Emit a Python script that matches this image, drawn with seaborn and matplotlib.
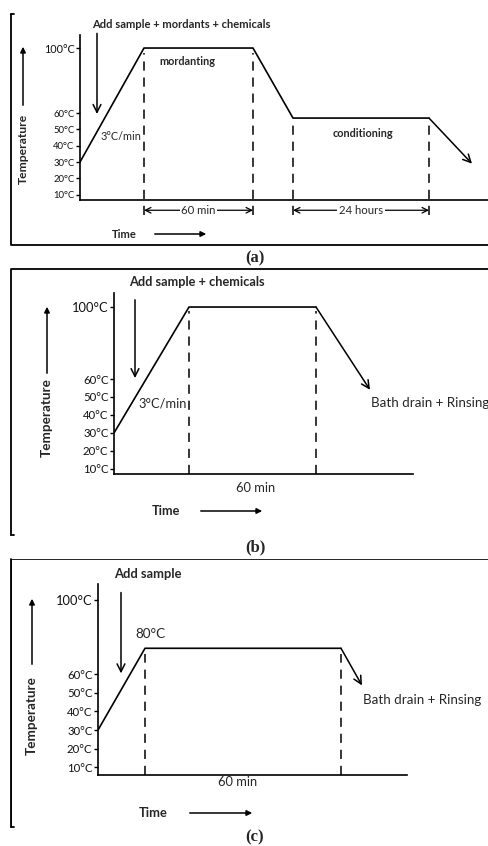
import numpy as np
import pandas as pd
import seaborn as sns
import matplotlib
matplotlib.use("Agg")
import matplotlib.pyplot as plt
from matplotlib.lines import Line2D

# ---------------- data (schematic time units, temperatures in °C) ----------------
TEMP_TICKS = [10, 20, 30, 40, 50, 60, 100]
TEMP_LABELS = ["10°C", "20°C", "30°C", "40°C", "50°C", "60°C", "100°C"]

A_TIME = [0, 6.4, 17.3, 21.3, 34.9]
A_TEMP = [30, 100, 100, 57, 57]
A_END = (39.2, 29)          # end of final cooling arrow
A_DASH_X = [6.4, 17.3, 21.3, 34.9]
A_DASH_TOP = [97, 97, 55, 55]

B_TIME = [0, 7.5, 20.2]
B_TEMP = [30, 100, 100]
B_END = (25.6, 54)
B_DASH_X = [7.5, 20.2]
B_DASH_TOP = [98, 98]

C_TIME = [0, 4.7, 24.3]
C_TEMP = [30, 74, 74]
C_END = (26.4, 54)
C_DASH_X = [4.7, 24.3]
C_DASH_TOP = [71, 71]

# ---------------- style ----------------
sns.set_theme(style="ticks")
plt.rcParams["font.family"] = ["Lato", "DejaVu Sans"]
plt.rcParams["axes.linewidth"] = 1.2

W, H = 488, 846
fig = plt.figure(figsize=(W / 100, H / 100), dpi=100)


def rect(x0, x1, yt, yb):
    return [x0 / W, 1 - yb / H, (x1 - x0) / W, (yb - yt) / H]


def fp(x, y):
    return (x / W, 1 - y / H)


def make_axes(r, ylim, xlim, big, small):
    ax = fig.add_axes(r)
    ax.set_xlim(*xlim)
    ax.set_ylim(*ylim)
    sns.despine(ax=ax)
    ax.set_xticks([])
    ax.set_yticks(TEMP_TICKS)
    ax.set_yticklabels(TEMP_LABELS)
    for lab, v in zip(ax.get_yticklabels(), TEMP_TICKS):
        lab.set_fontsize(big if v == 100 else small)
        lab.set_color("#111111")
    ax.tick_params(axis="y", length=3, width=1, pad=1, color="black", direction="out")
    for s in ax.spines.values():
        s.set_color("black")
    ax.set_facecolor("none")
    return ax


def profile(ax, t, temp, end, dash_x, dash_top, dash_bottom):
    df = pd.DataFrame({"time": t, "temp": temp})
    sns.lineplot(data=df, x="time", y="temp", ax=ax, color="black", lw=1.2,
                 legend=False, sort=False)
    ax.annotate("", xy=end, xytext=(t[-1], temp[-1]), annotation_clip=False,
                arrowprops=dict(arrowstyle="->", lw=1.1, color="black",
                                mutation_scale=14, shrinkA=0, shrinkB=0))
    ax.vlines(dash_x, dash_bottom, dash_top, colors="black", lw=1.1,
              linestyles=(0, (6, 4.5)), clip_on=False)
    ax.set_xlabel("")
    ax.set_ylabel("")


def down_arrow(ax, x, y0, y1):
    ax.annotate("", xy=(x, y1), xytext=(x, y0), annotation_clip=False,
                arrowprops=dict(arrowstyle="->", lw=1.1, color="black",
                                mutation_scale=14, shrinkA=0, shrinkB=0))


def fig_arrow(p0, p1):
    fig.add_artist(matplotlib.patches.FancyArrowPatch(
        fp(*p0), fp(*p1), transform=fig.transFigure, arrowstyle="-|>",
        mutation_scale=8, lw=1.1, color="black"))


def fig_line(xs, ys, lw=1.3):
    fig.add_artist(Line2D([x / W for x in xs], [1 - y / H for y in ys],
                          transform=fig.transFigure, color="black", lw=lw))


# ---------------- panel (a) ----------------
axA = make_axes(rect(80, 488, 35, 200), (6.7, 108), (0, 40.8), 7.8, 6.8)
profile(axA, A_TIME, A_TEMP, A_END, A_DASH_X, A_DASH_TOP, -2.5)
down_arrow(axA, 1.7, 109, 59.5)
axA.text(10.7, 91.5, "mordanting", fontsize=7.8, fontweight="bold", ha="center", va="center")
axA.text(4.1, 45.5, "3°C/min", fontsize=7.8, ha="center", va="center")
axA.text(28.3, 47.5, "conditioning", fontsize=7.8, fontweight="bold", ha="center", va="center")
for (x0, x1, lab) in [(A_TIME[1], A_TIME[2], "60 min"), (A_TIME[3], A_TIME[4], "24 hours")]:
    axA.annotate("", xy=(x1, 0.4), xytext=(x0, 0.4), annotation_clip=False,
                 arrowprops=dict(arrowstyle="<->", lw=0.9, color="black",
                                 mutation_scale=10, shrinkA=0, shrinkB=0))
    axA.text((x0 + x1) / 2, 0.4, lab, fontsize=8.2, ha="center", va="center",
             bbox=dict(fc="white", ec="none", pad=1.2), clip_on=False)
fig.text(*fp(181, 25), "Add sample + mordants + chemicals", fontsize=8,
         fontweight="bold", ha="center", va="center")
fig.text(*fp(124, 234), "Time", fontsize=8, fontweight="bold", ha="center", va="center")
fig_arrow((152, 234), (209, 234))
fig.text(*fp(23, 149), "Temperature", fontsize=8.7, fontweight="bold", rotation=90,
         ha="center", va="center")
fig_arrow((23, 108), (23, 44))
fig_line([11, 11, 488], [14, 245, 245])
fig_line([11, 14], [14, 14])
fig.text(*fp(255, 258), "(a)", fontsize=12, fontweight="bold",
         family="Liberation Serif", ha="center", va="center")

# ---------------- panel (b) ----------------
axB = make_axes(rect(114, 413, 293, 474), (7.2, 107.8), (0, 29.9), 9.3, 8.2)
profile(axB, B_TIME, B_TEMP, B_END, B_DASH_X, B_DASH_TOP, 7.2)
down_arrow(axB, 2.1, 104, 60.5)
axB.text(4.9, 46.5, "3°C/min", fontsize=9.3, ha="center", va="center")
axB.text(25.7, 46.5, "Bath drain + Rinsing", fontsize=9.6, ha="left", va="center",
         clip_on=False)
fig.text(*fp(256, 488), "60 min", fontsize=9.3, ha="center", va="center")
fig.text(*fp(197, 282), "Add sample + chemicals", fontsize=9.2, fontweight="bold",
         ha="center", va="center")
fig.text(*fp(166, 511), "Time", fontsize=9.2, fontweight="bold", ha="center", va="center")
fig_arrow((198, 511), (265, 511))
fig.text(*fp(47, 418), "Temperature", fontsize=9.7, fontweight="bold", rotation=90,
         ha="center", va="center")
fig_arrow((47, 376), (47, 304))
fig_line([488, 11, 11], [269, 269, 535])
fig_line([11, 14], [535, 535])
fig.text(*fp(255, 547), "(b)", fontsize=12, fontweight="bold",
         family="Liberation Serif", ha="center", va="center")

# ---------------- panel (c) ----------------
axC = make_axes(rect(98, 407, 584, 775), (5.8, 108.6), (0, 30.9), 9.3, 8.2)
profile(axC, C_TIME, C_TEMP, C_END, C_DASH_X, C_DASH_TOP, 5.8)
down_arrow(axC, 2.3, 104, 60.5)
axC.text(5.2, 81.5, "80°C", fontsize=9.7, ha="center", va="center")
axC.text(26.5, 46, "Bath drain + Rinsing", fontsize=9.6, ha="left", va="center",
         clip_on=False)
fig.text(*fp(238, 782), "60 min", fontsize=9.3, ha="center", va="center")
fig.text(*fp(148, 574), "Add sample", fontsize=9.3, fontweight="bold",
         ha="center", va="center")
fig.text(*fp(153, 813), "Time", fontsize=9.3, fontweight="bold", ha="center", va="center")
fig_arrow((187, 813), (255, 813))
fig.text(*fp(32, 716), "Temperature", fontsize=9.7, fontweight="bold", rotation=90,
         ha="center", va="center")
fig_arrow((32, 667), (32, 596))
fig_line([488, 11, 11], [559, 559, 827], lw=0.6)
fig_line([11, 11], [559, 827])
fig_line([11, 14], [827, 827])
fig.text(*fp(255, 837), "(c)", fontsize=12, fontweight="bold",
         family="Liberation Serif", ha="center", va="center")

fig.savefig("out.png", dpi=100, facecolor="white")
